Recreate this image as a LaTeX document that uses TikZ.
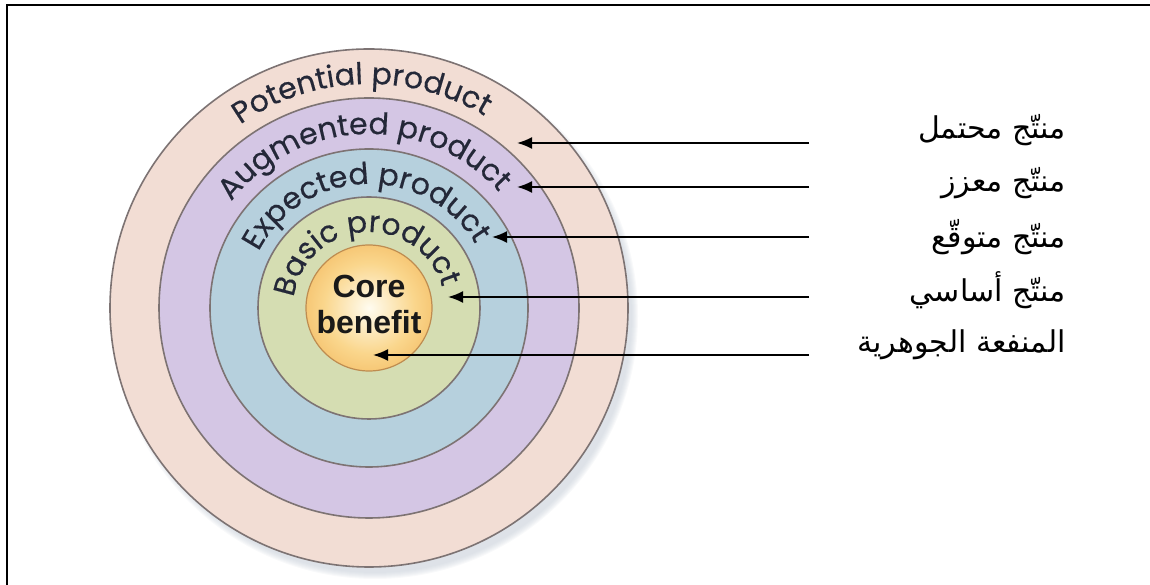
\documentclass[tikz,border=0pt]{standalone}
\usepackage{fontspec}
\usetikzlibrary{arrows.meta,decorations.text}
\setmainfont{Liberation Sans}
\newfontfamily\ringfamily[FakeBold=0.4]{Poppins}
\newfontfamily\arabicfont[Script=Arabic]{DejaVu Sans}
\TeXXeTstate=1

\definecolor{potfill}{RGB}{242,221,212}
\definecolor{augfill}{RGB}{212,198,228}
\definecolor{expfill}{RGB}{182,208,221}
\definecolor{basfill}{RGB}{213,221,178}
\definecolor{corein}{RGB}{255,252,240}
\definecolor{coremid}{RGB}{250,214,140}
\definecolor{coreout}{RGB}{238,168,70}
\definecolor{coreline}{RGB}{190,140,80}
\definecolor{ringline}{RGB}{125,115,115}
\definecolor{ringtext}{RGB}{36,40,56}
\definecolor{haze}{RGB}{196,204,214}

\pgfdeclareradialshading{coreglow}{\pgfpoint{0bp}{0bp}}{%
  color(0bp)=(corein); color(18bp)=(coremid); color(40bp)=(coreout); color(50bp)=(coreout)}

\newcommand\ringfont{\fontsize{30}{35}\selectfont\ringfamily\color{ringtext}}

\begin{document}
\begin{tikzpicture}[x=1pt,y=1pt,
    ring/.style={draw=ringline, line width=1.6pt},
    pointer/.style={line width=1.8pt, -{Latex[length=15pt,width=12pt]}},
    ringlabel/.style={decorate, decoration={text along path, text align=center,
      text={|\ringfont|#1}}},
    arlabel/.style={anchor=east, inner sep=0pt,
      font=\arabicfont\fontsize{30}{34}\selectfont}]
  \useasboundingbox (0,0) rectangle (1150,585);
  \draw[line width=2pt] (7,0) -- (7,580) -- (1150,580);

  \coordinate (c) at (369,277);
  \coordinate (sh) at (375,269);

  % halo under the rings
  \foreach \k in {0,...,6}
    \fill[haze, opacity=0.11] (sh) circle (257+\k);

  % the five levels
  \draw[ring, fill=potfill] (c) circle (259);
  \draw[ring, fill=augfill] (c) circle (210);
  \draw[ring, fill=expfill] (c) circle (159);
  \draw[ring, fill=basfill] (c) circle (111);
  \shade[shading=coreglow] (c) circle (63);
  \draw[draw=coreline, line width=1.2pt] (c) circle (63);

  \path[ringlabel={Potential product}] (c) ++(182:224) arc[start angle=182, end angle=2, radius=224];
  \path[ringlabel={Augmented product}] (c) ++(182:174) arc[start angle=182, end angle=2, radius=174];
  \path[ringlabel={Expected product}] (c) ++(182:124) arc[start angle=182, end angle=2, radius=124];
  \path[ringlabel={Basic product}] (c) ++(184:76) arc[start angle=184, end angle=4, radius=76];

  \node[font=\bfseries\fontsize{32}{36}\selectfont, align=center, inner sep=0pt, text=black!90] (core) at (369,281) {Core\\benefit};

  % Arabic labels
  \node[arlabel] (pot-ar) at (1066,455) {\beginR منتّج محتمل\endR};
  \node[arlabel] (aug-ar) at (1066,402) {\beginR منتّج معزز\endR};
  \node[arlabel] (exp-ar) at (1066,348) {\beginR منتّج متوقّع\endR};
  \node[arlabel] (bas-ar) at (1066,295) {\beginR منتّج أساسي\endR};
  \node[arlabel] (core-ar) at (1066,240) {\beginR المنفعة الجوهرية\endR};

  % pointers
  \coordinate (pot-tail) at (809,442);  \coordinate (pot-tip) at (517,442);
  \coordinate (aug-tail) at (809,398);  \coordinate (aug-tip) at (517,398);
  \coordinate (exp-tail) at (809,348);  \coordinate (exp-tip) at (492,348);
  \coordinate (bas-tail) at (809,288);  \coordinate (bas-tip) at (448,288);
  \coordinate (core-tail) at (809,230); \coordinate (core-tip) at (373,230);
  \draw[pointer] (pot-tail) -- (pot-tip);
  \draw[pointer] (aug-tail) -- (aug-tip);
  \draw[pointer] (exp-tail) -- (exp-tip);
  \draw[pointer] (bas-tail) -- (bas-tip);
  \draw[pointer] (core-tail) -- (core-tip);
\end{tikzpicture}
\end{document}
